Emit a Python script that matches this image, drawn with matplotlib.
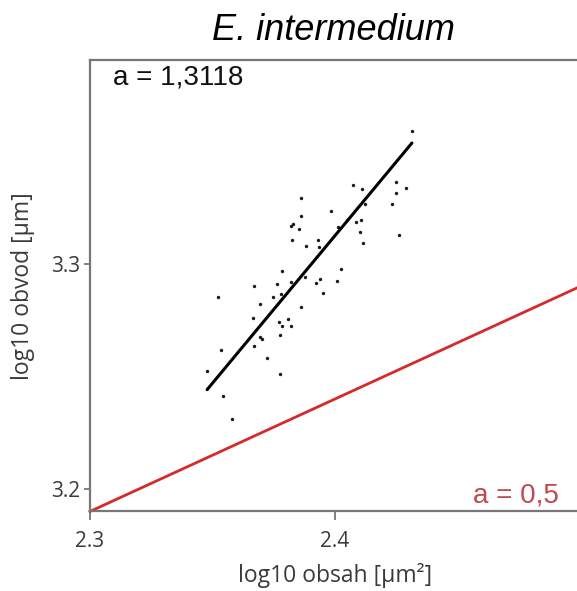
import matplotlib
matplotlib.use("Agg")
import matplotlib.pyplot as plt
import numpy as np

# data (log10 area, log10 perimeter)
log_area = [2.4313, 2.4249, 2.4291, 2.4249, 2.4233, 2.4262, 2.4073, 2.4111, 2.4124,
            2.3861, 2.3984, 2.3861, 2.4105, 2.4087, 2.4049, 2.4012, 2.3829, 2.3822,
            2.3852, 2.4101, 2.3824, 2.3929, 2.4114, 2.3883, 2.3935, 2.3784, 2.4023,
            2.3879, 2.3940, 2.3924, 2.4009, 2.3668, 2.3762, 2.3822, 2.3950, 2.3778,
            2.3747, 2.3521, 2.3695, 2.3860, 2.3665, 2.3809, 2.3773, 2.3782, 2.3822,
            2.3694, 2.3702, 2.3774, 2.3671, 2.3535, 2.3722, 2.3479, 2.3774, 2.3544,
            2.3578]
log_perim = [3.3593, 3.3364, 3.3338, 3.3314, 3.3265, 3.3129, 3.3352, 3.3333, 3.3265,
             3.3292, 3.3237, 3.3213, 3.3197, 3.3185, 3.3196, 3.3164, 3.3178, 3.3169,
             3.3156, 3.3142, 3.3107, 3.3107, 3.3093, 3.3079, 3.3076, 3.2970, 3.2976,
             3.2944, 3.2932, 3.2917, 3.2923, 3.2904, 3.2912, 3.2919, 3.2872, 3.2865,
             3.2852, 3.2852, 3.2822, 3.2808, 3.2760, 3.2757, 3.2744, 3.2723, 3.2726,
             3.2676, 3.2665, 3.2683, 3.2637, 3.2618, 3.2584, 3.2524, 3.2510, 3.2415,
             3.2312]

fit_slope = 1.3118
fit_intercept = 0.1643
fit_x_range = [2.3478, 2.4314]

ref_slope = 0.5
ref_intercept = 2.04
ref_x_range = [2.3, 2.5]

x_ticks = [2.3, 2.4]
y_ticks = [3.2, 3.3]
x_limits = [2.3, 2.5]
y_limits = [3.1902, 3.3907]

title = "E. intermedium"
xlabel = "log10 obsah [µm²]"
ylabel = "log10 obvod [µm]"
fit_label = "a = 1,3118"
ref_label = "a = 0,5"

W, H = 577, 591
fig = plt.figure(figsize=(W / 100, H / 100), dpi=100)
ax = fig.add_axes([90 / W, (H - 511) / H, 490 / W, 451 / H])

ax.scatter(log_area, log_perim, s=6, color="#1a1a1a", linewidths=0, zorder=3)

fx = np.array(fit_x_range)
ax.plot(fx, fit_slope * fx + fit_intercept, color="black", lw=2.2, solid_capstyle="round", zorder=4)

rx = np.array(ref_x_range)
ax.plot(rx, ref_slope * rx + ref_intercept, color="#d42a2a", lw=2.0, zorder=2, clip_on=False)

ax.set_xlim(*x_limits)
ax.set_ylim(*y_limits)
ax.set_xticks(x_ticks)
ax.set_yticks(y_ticks)
ax.set_xticklabels([f"{v:.1f}" for v in x_ticks])
ax.set_yticklabels([f"{v:.1f}" for v in y_ticks])

spine_col = "#777777"
for s in ["left", "bottom", "top"]:
    ax.spines[s].set_color(spine_col)
    ax.spines[s].set_linewidth(1.6)
ax.spines["right"].set_visible(False)

ax.tick_params(axis="x", direction="out", length=6.5, width=1.3, color=spine_col,
               labelsize=15, labelcolor="#3a3a3a", pad=8)
ax.tick_params(axis="y", direction="out", length=4, width=1.3, color=spine_col,
               labelsize=15, labelcolor="#3a3a3a", pad=3)
for lab in ax.get_xticklabels() + ax.get_yticklabels():
    lab.set_family("Open Sans")

ax.set_xlabel(xlabel, fontsize=16.5, family="Open Sans", color="#3a3a3a")
ax.set_ylabel(ylabel, fontsize=16.5, family="Open Sans", color="#3a3a3a")
ax.xaxis.set_label_coords((335 - 90) / 490, -(575 - 511) / 451)
ax.yaxis.set_label_coords(-(90 - 23) / 490, (511 - 286) / 451)
ax.xaxis.label.set_va("center")
ax.yaxis.label.set_va("center")

fig.text(333 / W, 1 - 31 / H, title, ha="center", va="center", fontsize=26,
         style="italic", family="Liberation Sans", color="black")

fig.text(113 / W, 1 - 77 / H, fit_label, ha="left", va="center", fontsize=20,
         family="Liberation Sans", color="#111111")
fig.text(559 / W, 1 - 496 / H, ref_label, ha="right", va="center", fontsize=20,
         family="Liberation Sans", color="#c0484f")

fig.savefig("out.png", dpi=100, facecolor="white")
